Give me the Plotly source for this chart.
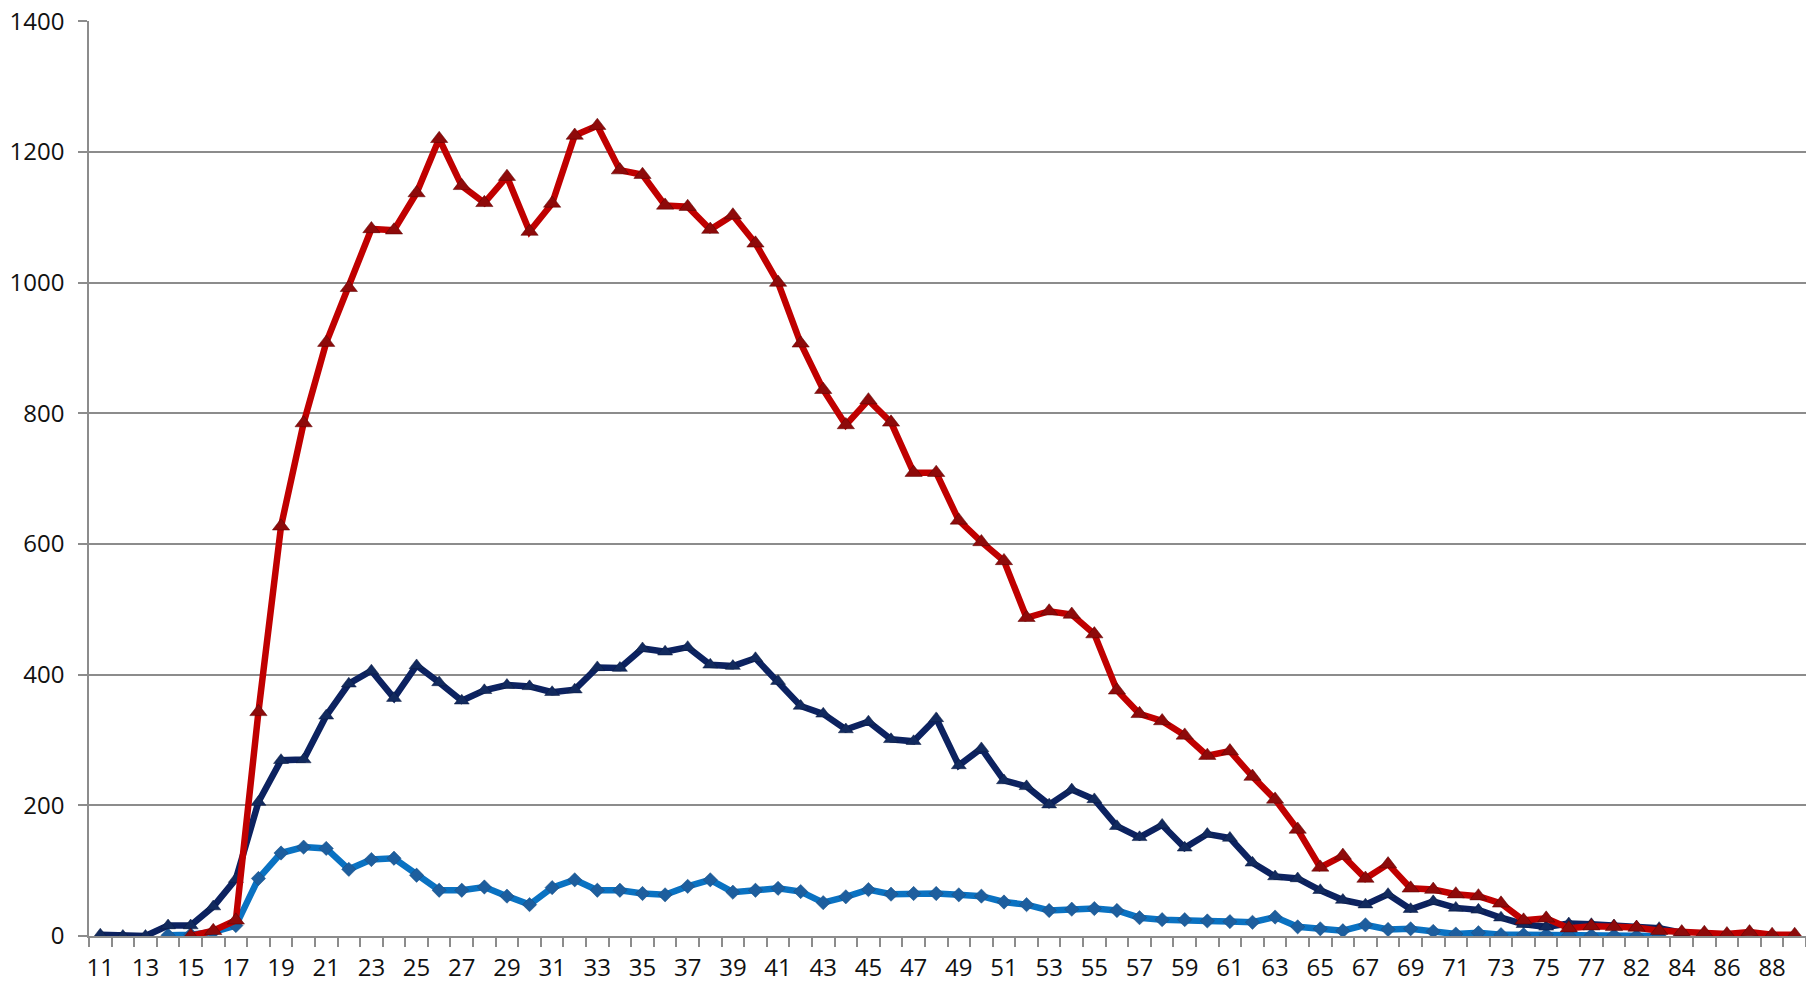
import plotly.graph_objects as go

ages = [str(a) for a in range(11, 78)] + ["78"] + [str(a) for a in range(82, 90)]

red = [None, None, None, None,
       0, 8, 24, 343, 627, 785, 908, 992, 1082, 1080, 1137, 1220, 1148, 1122, 1162, 1078,
       1121, 1225, 1240, 1172, 1165, 1118, 1116, 1081, 1103, 1060, 1000, 907, 836, 782,
       820, 786, 709, 709, 636, 603, 574, 487, 497, 492, 462, 376, 340, 329, 307, 276,
       283, 244, 209, 163, 105, 123, 88, 110, 73, 71, 64, 61, 50, 24, 27, 12, 15,
       14,
       13, 8, 6, 5, 3, 6, 2, 2]

navy = [2, 0, 0, 16, 16, 45, 87, 205, 269, 270, 337, 386, 406, 364, 414, 388, 360, 376,
        384, 382, 373, 377, 411, 410, 440, 435, 442, 415, 413, 425, 390, 352, 340, 316,
        328, 301, 298, 333, 261, 287, 238, 229, 201, 224, 209, 168, 151, 170, 135, 156,
        150, 112, 91, 88, 70, 55, 48, 64, 41, 53, 43, 40, 28, 18, 14, 19, 18,
        16,
        14, 12, 5, None, None, None, None, None]

blue = [None, None, None,
        1, 2, 6, 16, 88, 127, 136, 134, 102, 117, 119, 93, 70, 70, 75, 61, 48, 74, 86,
        70, 70, 65, 63, 76, 86, 67, 70, 73, 68, 51, 60, 71, 64, 65, 65, 63, 61, 52, 48,
        39, 41, 42, 39, 28, 25, 25, 23, 22, 21, 29, 14, 11, 8, 17, 10, 11, 7, 3, 5, 2,
        2, 2, 1, 1,
        1,
        0, 0, None, None, None, None, None, None]

y_ticks = [0, 200, 400, 600, 800, 1000, 1200, 1400]

idx = list(range(len(ages)))
label_idx = idx[::2]
label_txt = [ages[i] for i in label_idx]

fig = go.Figure()
fig.add_trace(go.Scatter(
    x=idx, y=blue, mode="lines+markers",
    line=dict(color="#0A72C2", width=6.5),
    marker=dict(symbol="diamond", size=11, color="#1D5E9E",
                line=dict(color="#164C80", width=0.5)),
    connectgaps=False, showlegend=False))
fig.add_trace(go.Scatter(
    x=idx, y=navy, mode="lines+markers",
    line=dict(color="#0C2260", width=6.5),
    marker=dict(symbol="triangle-up", size=13, color="#122A5E",
                line=dict(color="#0A1A40", width=0.5)),
    connectgaps=False, showlegend=False))
fig.add_trace(go.Scatter(
    x=idx, y=red, mode="lines+markers",
    line=dict(color="#C00000", width=6.5),
    marker=dict(symbol="triangle-up", size=15, color="#8E0A0A",
                line=dict(color="#5A0000", width=0.5)),
    connectgaps=False, showlegend=False))

grid = "#8C8C8C"
fig.update_layout(
    width=1806, height=983,
    margin=dict(l=89, r=0, t=21, b=47),
    paper_bgcolor="white", plot_bgcolor="white",
    font=dict(family="Open Sans", size=24, color="#111111"),
    xaxis=dict(
        range=[-0.5, len(ages) - 0.5], automargin=False,
        tickmode="array", tickvals=label_idx, ticktext=label_txt,
        ticks="", showgrid=False, zeroline=False,
        showline=True, linecolor=grid, linewidth=1.5,
        ticklabelstandoff=9,
        minor=dict(tickmode="array",
                   tickvals=[i - 0.5 for i in idx] + [len(ages) - 0.5],
                   ticks="outside", ticklen=9, tickwidth=1.5, tickcolor=grid,
                   showgrid=False),
    ),
    yaxis=dict(
        range=[0, 1400.2], automargin=False,
        tickmode="array", tickvals=y_ticks,
        ticks="outside", ticklen=9, tickwidth=1.5, tickcolor=grid,
        showgrid=True, gridcolor=grid, gridwidth=1.5,
        zeroline=False, showline=True, linecolor=grid, linewidth=1.5,
        ticklabelstandoff=9,
    ),
)

fig.write_html("out.html", config={"displayModeBar": False},
               post_script="document.body.style.margin='0';document.body.style.overflow='hidden';")
